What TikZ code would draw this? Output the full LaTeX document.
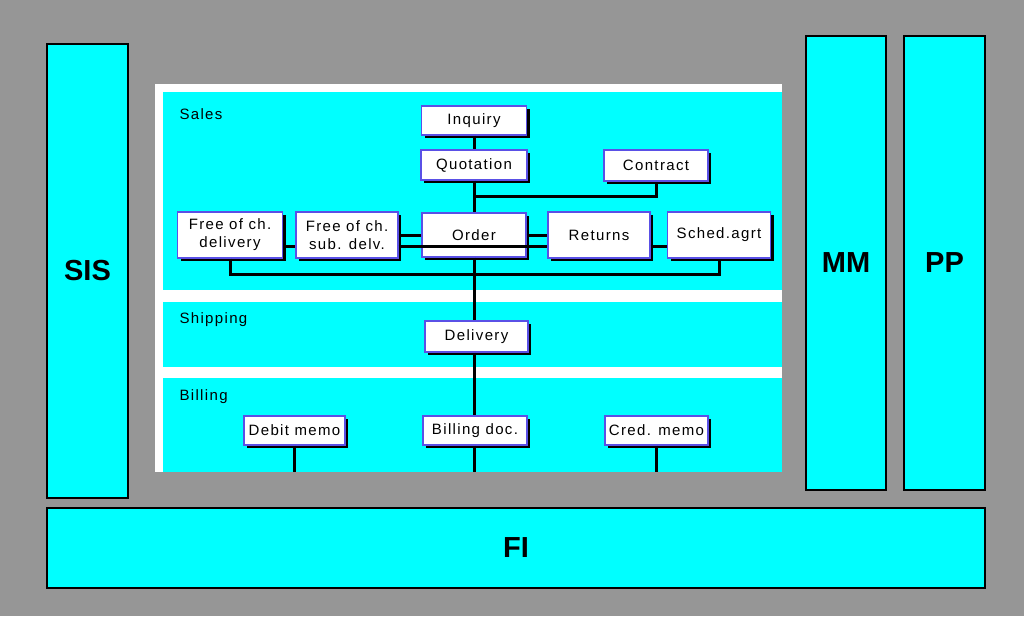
\documentclass[tikz,border=0pt]{standalone}
\usepackage{fontspec}
\setmainfont{Liberation Sans}
\newfontfamily\uifont[LetterSpace=9]{Liberation Sans}
\usetikzlibrary{positioning, shadows}
\definecolor{bggray}{HTML}{969696}
\definecolor{aqua}{HTML}{00FFFF}
\definecolor{boxblue}{HTML}{5A50E6}
\tikzset{%
	module/.style={
		draw=black,
		line width=1.8pt,
		fill=aqua,
		font=\fontsize{29}{32}\selectfont\bfseries
	},
	doc/.style={
		draw=boxblue,
		line width=1.4pt,
		fill=white,
		align=center,
		inner sep=1pt,
		font=\uifont\fontsize{15}{18}\selectfont,
		drop shadow={shadow xshift=3pt, shadow yshift=-3pt, fill=black, opacity=1}
	},
	band/.style={
		fill=aqua
	},
	bandlabel/.style={
		anchor=west,
		font=\uifont\fontsize{15}{18}\selectfont
	},
	link/.style={
		line width=3pt
	},
}
\begin{document}
\begin{tikzpicture}[x=1pt, y=-1pt]
	% background
	\fill[bggray] (0,0) rectangle (1024,616);
	\useasboundingbox (0,0) rectangle (1024,616);
	
	% outer modules
	\node[module, minimum width=81pt, minimum height=454pt] (sis) at (87.5,271) {SIS};
	\node[module, minimum width=80pt, minimum height=454pt] (mm) at (846,263) {MM};
	\node[module, minimum width=81pt, minimum height=454pt] (pp) at (944.5,263) {PP};
	\node[module, minimum width=938pt, minimum height=80pt] (fi) at (516,548) {FI};
	
	% SD panel with its three bands
	\fill[white] (155,84) rectangle (782,472);
	\fill[band] (163,92) rectangle (782,290);
	\fill[band] (163,302) rectangle (782,367);
	\fill[band] (163,378) rectangle (782,472);
	\node[bandlabel] (sales) at (176,114) {Sales};
	\node[bandlabel] (shipping) at (176,320) {Shipping};
	\node[bandlabel] (billing) at (176,397) {Billing};
	
	% documents
	\node[doc, minimum width=105pt, minimum height=29pt] (inquiry) at (474,120.5) {Inquiry};
	\node[doc, minimum width=106pt, minimum height=30pt] (quotation) at (474,165) {Quotation};
	\node[doc, minimum width=104pt, minimum height=31pt] (contract) at (656,165.5) {Contract};
	\node[doc, minimum width=104pt, minimum height=44pt] (order) at (474,235) {Order};
	\node[doc, minimum width=105pt, minimum height=46pt] (fcdel) at (230,235) {Free of ch.\\delivery};
	\node[doc, minimum width=102pt, minimum height=46pt] (fcsub) at (347,235) {Free of ch.\\sub. delv.};
	\node[doc, minimum width=102pt, minimum height=46pt] (returns) at (599,235) {Returns};
	\node[doc, minimum width=103pt, minimum height=46pt] (schedagr) at (719,235) {Sched.agrt};
	\node[doc, minimum width=103pt, minimum height=31pt] (delivery) at (476.5,336.5) {Delivery};
	\node[doc, minimum width=101pt, minimum height=29pt] (debitmemo) at (294.5,430.5) {Debit memo};
	\node[doc, minimum width=104pt, minimum height=29pt] (billdoc) at (475,430.5) {Billing doc.};
	\node[doc, minimum width=103pt, minimum height=29pt] (credmemo) at (656.5,430.5) {Cred. memo};
	
	% connections
	\coordinate (ctrbus) at (474,196);
	\coordinate (rowbus) at (474,274);
	\coordinate (bandend) at (0,472);
	\draw[link] (inquiry) -- (quotation);
	\draw[link] (quotation) -- (order);
	\draw[link] (ctrbus) -| (contract.south);
	\draw[link] (fcsub.east) -- (order.west);
	\draw[link] (order.east) -- (returns.west);
	\draw[link] ([yshift=-11pt]fcdel.east) -- ([yshift=-11pt]fcsub.west);
	\draw[link] ([yshift=-11pt]fcsub.east) -- ([yshift=-11pt]returns.west);
	\draw[link] ([yshift=-11pt]returns.east) -- ([yshift=-11pt]schedagr.west);
	\draw[link] (fcdel.south) |- (rowbus) -| (schedagr.south);
	\draw[link] (order.south -| rowbus) -- (delivery.north -| rowbus);
	\draw[link] (delivery.south -| rowbus) -- (billdoc.north -| rowbus);
	\draw[link] (billdoc.south -| rowbus) -- (bandend -| rowbus);
	\draw[link] (debitmemo.south) -- (debitmemo.south |- bandend);
	\draw[link] (credmemo.south) -- (credmemo.south |- bandend);
\end{tikzpicture}
\end{document}
